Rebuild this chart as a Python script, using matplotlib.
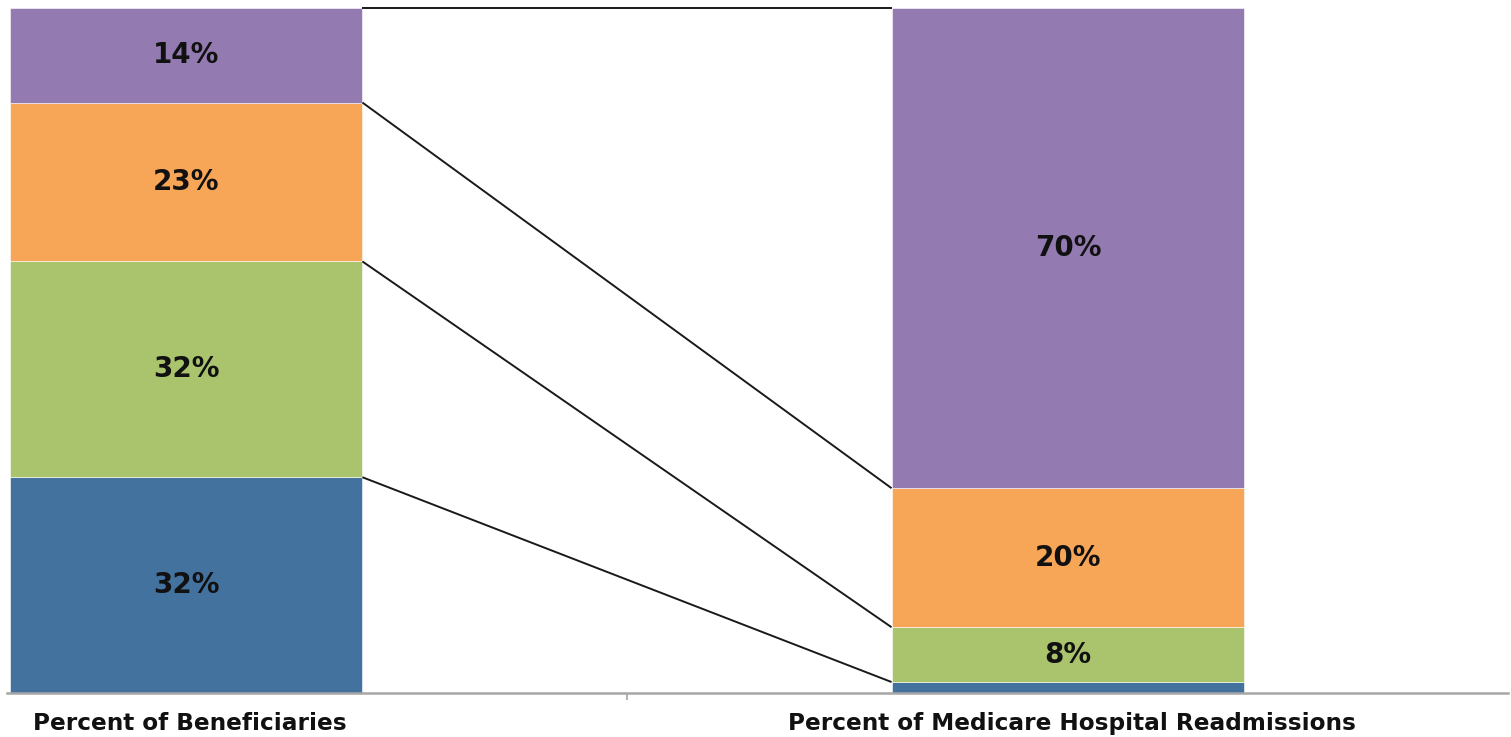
import numpy as np
import matplotlib.pyplot as plt

plt.rcParams['font.family'] = ['DejaVu Sans']

categories = ['Percent of Beneficiaries', 'Percent of Medicare Hospital Readmissions']
# segments stacked bottom to top
beneficiaries = [31.5, 31.5, 23.2, 13.8]
readmissions = [1.6, 8.0, 20.3, 70.1]
ben_labels = ['32%', '32%', '23%', '14%']
readm_labels = ['', '8%', '20%', '70%']
colors = ['#44729F', '#AAC46D', '#F7A556', '#937AB0']

fig = plt.figure(figsize=(15.11, 7.37), dpi=100)
ax = fig.add_axes([7 / 1511, 44 / 737, 1501 / 1511, (693 - 8) / 737])

x = np.arange(len(categories))
width = 0.4
series = [beneficiaries, readmissions]
labels = [ben_labels, readm_labels]

for i in range(len(categories)):
    bottom = 0
    for val, col, lab in zip(series[i], colors, labels[i]):
        ax.bar(x[i], val, width, bottom=bottom, color=col,
               edgecolor='#ffffff', linewidth=0.4)
        if lab:
            ax.text(x[i], bottom + val / 2, lab, ha='center', va='center',
                    fontsize=20, fontweight='bold', color='#111111')
        bottom += val

# connector lines between cumulative boundaries
cum_left = np.cumsum(beneficiaries)
cum_right = np.cumsum(readmissions)
for yl, yr in zip(cum_left, cum_right):
    ax.plot([x[0] + width / 2, x[1] - width / 2], [yl, yr], color='#1a1a1a',
            linewidth=1.4, solid_capstyle='butt', clip_on=False)

ax.set_xlim(-0.203, 1.499)
ax.set_ylim(0, 100)
for s in ['top', 'right', 'left']:
    ax.spines[s].set_visible(False)
ax.spines['bottom'].set_color('#a6a6a6')
ax.spines['bottom'].set_linewidth(1.8)
ax.set_yticks([])
ax.set_xticks([0.5])
ax.set_xticklabels([''])
ax.tick_params(axis='x', length=5, width=1.2, color='#a6a6a6', direction='out')
for xi, cat in zip(x, categories):
    ax.text(xi + 0.004, -0.045, cat, transform=ax.get_xaxis_transform(), ha='center',
            va='center', fontsize=16.7, fontweight='bold', color='#111111')

fig.savefig('out.png', dpi=100)
